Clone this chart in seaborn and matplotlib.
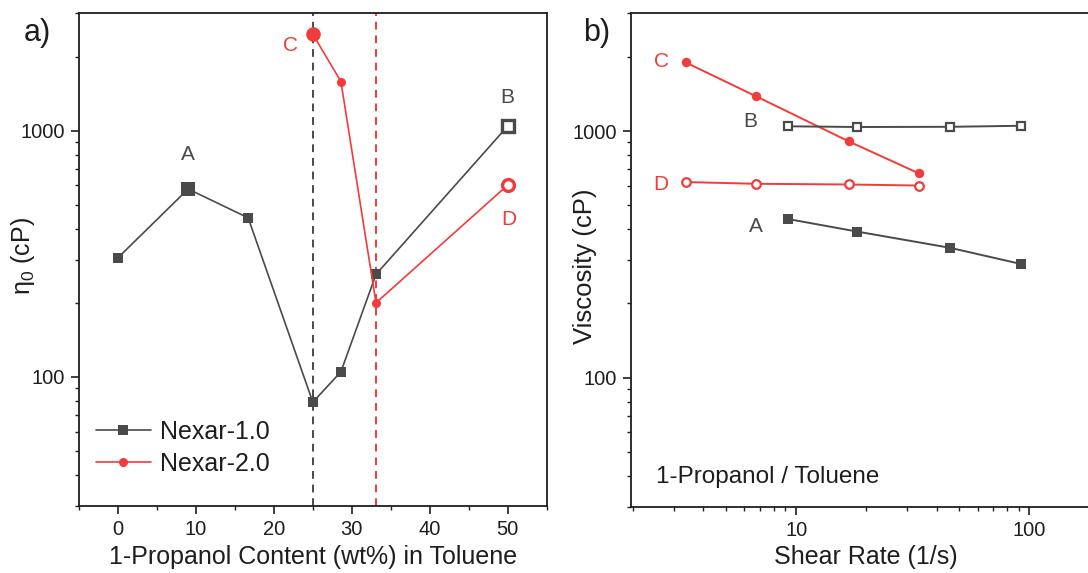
import numpy as np
import pandas as pd
import matplotlib
matplotlib.use("Agg")
import matplotlib.pyplot as plt
import matplotlib.ticker as mticker
import seaborn as sns

# ---- data -------------------------------------------------------------
# a) zero-shear viscosity vs 1-propanol content
propanol_wt = [0, 9, 16.7, 25, 28.6, 33.1, 50]
eta0_nexar1 = [305, 580, 443, 79, 105, 261, 1045]
propanol_wt2 = [25, 28.6, 33.1, 50]
eta0_nexar2 = [2466, 1585, 200, 602]
transition_wt = [25, 33.1]

# b) viscosity vs shear rate for the marked samples
shear_red = [3.36, 6.72, 16.8, 33.6]
visc_C = [1897, 1384, 908, 673]
visc_D = [621, 611, 607, 601]
shear_gray = [9.2, 18.3, 45.8, 92]
visc_B = [1045, 1038, 1040, 1050]
visc_A = [440, 391, 336, 289]

GRAY = "#4a4a4a"
RED = "#f23b3b"

sns.set_theme(style="ticks")
plt.rcParams["font.family"] = ["Liberation Sans", "DejaVu Sans"]
plt.rcParams["axes.linewidth"] = 1.3
plt.rcParams["axes.edgecolor"] = "#1e1e1e"
plt.rcParams["xtick.color"] = "#1e1e1e"
plt.rcParams["ytick.color"] = "#1e1e1e"
plt.rcParams["text.color"] = "#1e1e1e"
plt.rcParams["axes.labelcolor"] = "#1e1e1e"

fig = plt.figure(figsize=(10.88, 5.73), dpi=100)
W, H = 1088, 573
L1, R1, T1, B1 = 79, 546.7, 13.3, 505.7
L2, R2, T2, B2 = 631, 1099.7, 13.3, 506.7
ax1 = fig.add_axes([L1 / W, 1 - B1 / H, (R1 - L1) / W, (B1 - T1) / H])
ax2 = fig.add_axes([L2 / W, 1 - B2 / H, (R2 - L2) / W, (B2 - T2) / H])

# ---- panel a ----------------------------------------------------------
df1 = pd.DataFrame({"x": propanol_wt, "y": eta0_nexar1})
df2 = pd.DataFrame({"x": propanol_wt2, "y": eta0_nexar2})

ax1.axvline(transition_wt[0], color=GRAY, ls=(0, (4, 3)), lw=1.4, zorder=1)
ax1.axvline(transition_wt[1], color=RED, ls=(0, (4, 3)), lw=1.4, zorder=1)

sns.lineplot(data=df1, x="x", y="y", ax=ax1, color=GRAY, lw=1.2,
             marker="s", markersize=6.5, markeredgewidth=0,
             label="Nexar-1.0", zorder=3)
sns.lineplot(data=df2, x="x", y="y", ax=ax1, color=RED, lw=1.2,
             marker="o", markersize=6.5, markeredgewidth=0,
             label="Nexar-2.0", zorder=3)

# highlighted samples A-D
iA, iB = 1, 6
iC, iD = 0, 3
ax1.plot(propanol_wt[iA], eta0_nexar1[iA], "s", color=GRAY, ms=10.5, mew=0, zorder=4)
ax1.plot(propanol_wt[iB], eta0_nexar1[iB], "s", mfc="white", mec=GRAY, ms=8.5, mew=2.4, zorder=4)
ax1.plot(propanol_wt2[iC], eta0_nexar2[iC], "o", color=RED, ms=10.5, mew=0, zorder=4)
ax1.plot(propanol_wt2[iD], eta0_nexar2[iD], "o", mfc="white", mec=RED, ms=8.5, mew=2.4, zorder=4)

ax1.text(8.93, 798, "A", color=GRAY, ha="center", va="center", fontsize=15)
ax1.text(49.9, 1366, "B", color=GRAY, ha="center", va="center", fontsize=15)
ax1.text(22.07, 2218, "C", color=RED, ha="center", va="center", fontsize=15)
ax1.text(50.2, 435, "D", color=RED, ha="center", va="center", fontsize=15)

ax1.set_yscale("log")
ax1.set_xlim(-5, 55)
ax1.set_ylim(30, 3000)
ax1.xaxis.set_major_locator(mticker.MultipleLocator(10))
ax1.xaxis.set_minor_locator(mticker.MultipleLocator(5))
ax1.yaxis.set_major_locator(mticker.FixedLocator([100, 1000]))
ax1.yaxis.set_major_formatter(mticker.FixedFormatter(["100", "1000"]))
ax1.yaxis.set_minor_locator(mticker.LogLocator(base=10, subs=np.arange(2, 10)))
ax1.yaxis.set_minor_formatter(mticker.NullFormatter())
ax1.set_xlabel("1-Propanol Content (wt%) in Toluene", fontsize=18)
ax1.set_ylabel(r"$\mathregular{\eta_0}$ (cP)", fontsize=18)
ax1.xaxis.set_label_coords(0.5, -(545 - B1) / (B1 - T1))
ax1.yaxis.set_label_coords(-(L1 - 37) / (R1 - L1), (B1 - 256) / (B1 - T1))
ax1.legend(loc="upper left", bbox_to_anchor=(0.036, 0.175), frameon=False,
           borderpad=0, borderaxespad=0, fontsize=18, handlelength=2.2,
           handletextpad=0.35, labelspacing=0.32)

# ---- panel b ----------------------------------------------------------
dC = pd.DataFrame({"x": shear_red, "y": visc_C})
dD = pd.DataFrame({"x": shear_red, "y": visc_D})
dB = pd.DataFrame({"x": shear_gray, "y": visc_B})
dA = pd.DataFrame({"x": shear_gray, "y": visc_A})

sns.lineplot(data=dC, x="x", y="y", ax=ax2, color=RED, lw=1.4,
             marker="o", markersize=6.8, markeredgewidth=0)
sns.lineplot(data=dD, x="x", y="y", ax=ax2, color=RED, lw=1.4,
             marker="o", markersize=6.2, mfc="white", mec=RED, markeredgewidth=1.6)
sns.lineplot(data=dB, x="x", y="y", ax=ax2, color=GRAY, lw=1.4,
             marker="s", markersize=5.4, mfc="white", mec=GRAY, markeredgewidth=1.6)
sns.lineplot(data=dA, x="x", y="y", ax=ax2, color=GRAY, lw=1.4,
             marker="s", markersize=6.5, markeredgewidth=0)

ax2.text(2.66, 1919, "C", color=RED, ha="center", va="center", fontsize=15)
ax2.text(2.62, 609, "D", color=RED, ha="center", va="center", fontsize=15)
ax2.text(6.36, 1088, "B", color=GRAY, ha="center", va="center", fontsize=15)
ax2.text(6.71, 411, "A", color=GRAY, ha="center", va="center", fontsize=15)
ax2.text(2.51, 39.6, "1-Propanol / Toluene", ha="left", va="center", fontsize=17.5)

ax2.set_xscale("log")
ax2.set_yscale("log")
ax2.set_xlim(1.96, 200)
ax2.set_ylim(30, 3000)
ax2.xaxis.set_major_locator(mticker.FixedLocator([10, 100]))
ax2.xaxis.set_major_formatter(mticker.FixedFormatter(["10", "100"]))
ax2.xaxis.set_minor_locator(mticker.LogLocator(base=10, subs=np.arange(2, 10)))
ax2.xaxis.set_minor_formatter(mticker.NullFormatter())
ax2.yaxis.set_major_locator(mticker.FixedLocator([100, 1000]))
ax2.yaxis.set_major_formatter(mticker.FixedFormatter(["100", "1000"]))
ax2.yaxis.set_minor_locator(mticker.LogLocator(base=10, subs=np.arange(2, 10)))
ax2.yaxis.set_minor_formatter(mticker.NullFormatter())
ax2.set_xlabel("Shear Rate (1/s)", fontsize=18)
ax2.set_ylabel("Viscosity (cP)", fontsize=18.5)
ax2.xaxis.set_label_coords((866 - L2) / (R2 - L2), -(545 - B2) / (B2 - T2))
ax2.yaxis.set_label_coords(-(L2 - 597) / (R2 - L2), (B2 - 266) / (B2 - T2))

for ax in (ax1, ax2):
    ax.tick_params(which="major", direction="out", length=6, width=1.2,
                   labelsize=14.5, pad=4)
    ax.tick_params(which="minor", direction="out", length=3, width=1.0)
    for s in ax.spines.values():
        s.set_visible(True)

fig.text(37 / W, 1 - 33 / H, "a)", fontsize=22, ha="center", va="center")
fig.text(597 / W, 1 - 33 / H, "b)", fontsize=22, ha="center", va="center")

fig.savefig("out.png", dpi=100)
